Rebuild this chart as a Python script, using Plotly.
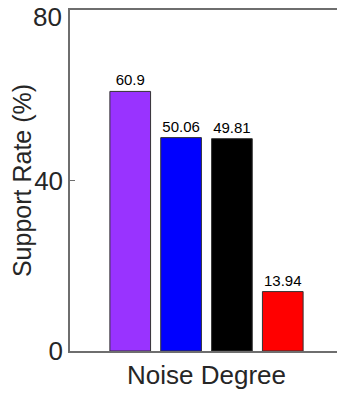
import plotly.graph_objects as go

methods = ["M1", "M2", "M3", "M4"]
rates = [60.9, 50.06, 49.81, 13.94]
labels = ["60.9", "50.06", "49.81", "13.94"]
colors = ["#9933ff", "#0000ff", "#000000", "#ff0000"]
category = ["Noise Degree"]
y_ticks = [0, 40, 80]
y_ticktext = ["0", "40", ""]  # top label drawn as annotation so it is not cut off

fig = go.Figure()
for name, val, lab, col in zip(methods, rates, labels, colors):
    fig.add_trace(go.Bar(
        x=category, y=[val], name=name,
        marker=dict(color=col, line=dict(color="#333333", width=1)),
        text=[lab], textposition="outside", cliponaxis=False,
        textfont=dict(size=15, color="black", family="Liberation Sans, Arial"),
    ))

# page is shifted by the browser's body margin, so size to fit the window
fig.update_layout(
    barmode="group", bargap=0.255, bargroupgap=0.2,
    width=337, height=385,
    margin=dict(l=62, r=2, t=2, b=42, autoexpand=False),
    paper_bgcolor="white", plot_bgcolor="white",
    showlegend=False,
    font=dict(family="Liberation Sans, Arial", color="#262626"),
)
fig.add_annotation(
    text=str(y_ticks[-1]), xref="paper", x=0, yref="y", y=y_ticks[-1],
    xanchor="right", yanchor="middle", xshift=-6, yshift=-7,
    showarrow=False, font=dict(size=26, color="#262626"),
)
fig.update_xaxes(
    showline=True, linecolor="#6e6e6e", linewidth=1.5, mirror=True,
    ticks="", tickfont=dict(size=26), showgrid=False,
)
fig.update_yaxes(
    range=[0, 80], tickvals=y_ticks, ticktext=y_ticktext,
    showline=True, linecolor="#6e6e6e",
    linewidth=1.5, mirror="ticks", ticks="inside", ticklen=5, tickcolor="#6e6e6e",
    tickfont=dict(size=26), showgrid=False, zeroline=False, automargin=True,
    title=dict(text="Support Rate (%)", font=dict(size=25), standoff=4),
)
fig.write_html("out.html")
